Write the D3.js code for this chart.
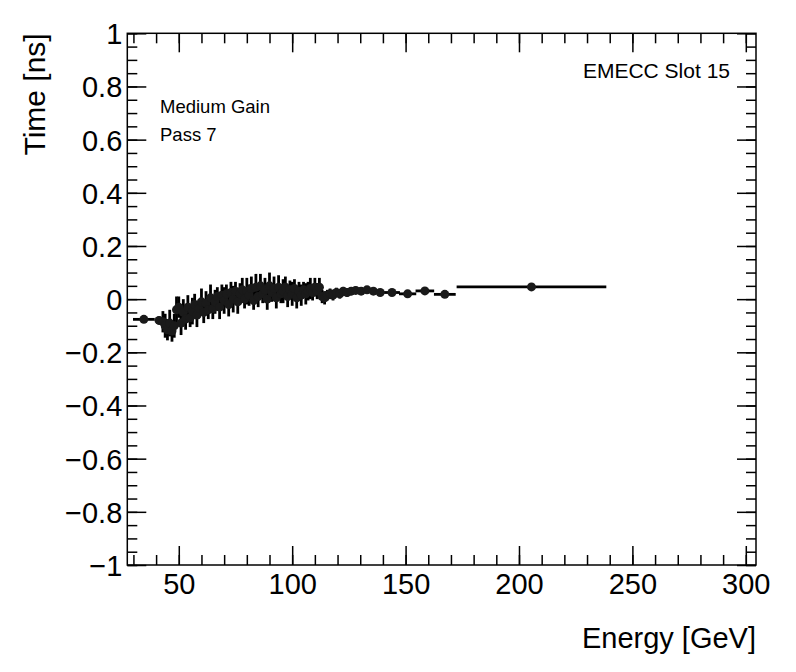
<!DOCTYPE html>
<html>
<head>
<meta charset="utf-8">
<script src="https://cdn.jsdelivr.net/npm/d3@7"></script>
<style>
  body { margin: 0; background: #fff; }
  text { font-family: "Liberation Sans", Arial, sans-serif; fill: #000; }
</style>
</head>
<body>
<script>
// energy bin centres [GeV], half widths, mean time [ns] and its error
const energy = [
  34.6, 41.3,
  43, 44, 45, 46, 47, 48, 49, 50, 51, 52, 53, 54, 55, 56, 57, 58, 59, 60,
  61, 62, 63, 64, 65, 66, 67, 68, 69, 70, 71, 72, 73, 74, 75, 76, 77, 78, 79, 80,
  81, 82, 83, 84, 85, 86, 87, 88, 89, 90, 91, 92, 93, 94, 95, 96, 97, 98, 99, 100,
  101, 102, 103, 104, 105, 106, 107, 108, 109, 110, 111, 112,
  113.2, 114.3, 115.5, 116.7, 118, 119.5, 121, 122.5, 124.2, 126, 128, 130.4,
  133, 135.8, 138.8, 144, 150.9, 158.5, 167.3, 205.5
];
const energyErr = [
  4.8, 1.7,
  0.5, 0.5, 0.5, 0.5, 0.5, 0.5, 0.5, 0.5, 0.5, 0.5, 0.5, 0.5, 0.5, 0.5, 0.5, 0.5, 0.5, 0.5,
  0.5, 0.5, 0.5, 0.5, 0.5, 0.5, 0.5, 0.5, 0.5, 0.5, 0.5, 0.5, 0.5, 0.5, 0.5, 0.5, 0.5, 0.5, 0.5, 0.5,
  0.5, 0.5, 0.5, 0.5, 0.5, 0.5, 0.5, 0.5, 0.5, 0.5, 0.5, 0.5, 0.5, 0.5, 0.5, 0.5, 0.5, 0.5, 0.5, 0.5,
  0.5, 0.5, 0.5, 0.5, 0.5, 0.5, 0.5, 0.5, 0.5, 0.5, 0.5, 0.5,
  0.6, 0.6, 0.6, 0.6, 0.7, 0.75, 0.75, 0.8, 0.85, 0.9, 1.1, 1.3,
  1.3, 1.5, 1.6, 3.5, 3.8, 4.1, 4.8, 33
];
const time = [
  -0.076, -0.08,
  -0.085, -0.1, -0.115, -0.09, -0.12, -0.1, -0.04, -0.03, -0.09, -0.05, -0.075, -0.03, -0.07, -0.045, -0.02, -0.06, -0.035, -0.01,
  -0.05, -0.015, -0.04, 0.005, -0.035, -0.01, 0.01, -0.03, 0.015, -0.005, 0.02, -0.02, 0.025, 0.0, 0.03, -0.01, 0.02, 0.035, 0.0, 0.03,
  0.015, 0.04, -0.005, 0.045, 0.01, 0.05, 0.02, 0.035, 0.0, 0.05, 0.025, 0.04, 0.005, 0.045, 0.02, 0.03, 0.045, 0.01, 0.035, 0.02,
  0.04, 0.005, 0.03, 0.015, 0.035, 0.02, 0.03, 0.04, 0.025, 0.045, 0.03, 0.045,
  0.01, 0.005, 0.015, 0.02, 0.015, 0.025, 0.02, 0.03, 0.025, 0.03, 0.033, 0.03,
  0.035, 0.03, 0.025, 0.025, 0.02, 0.031, 0.018, 0.046
];
const timeErr = [
  0.012, 0.015,
  0.04, 0.045, 0.04, 0.05, 0.04, 0.045, 0.05, 0.04, 0.045, 0.05, 0.04, 0.045, 0.035, 0.05, 0.04, 0.045, 0.035, 0.05,
  0.04, 0.045, 0.035, 0.05, 0.04, 0.045, 0.035, 0.045, 0.04, 0.05, 0.035, 0.045, 0.04, 0.05, 0.035, 0.045, 0.04, 0.045, 0.035, 0.05,
  0.04, 0.045, 0.035, 0.05, 0.04, 0.045, 0.035, 0.045, 0.04, 0.05, 0.035, 0.045, 0.04, 0.045, 0.035, 0.045, 0.04, 0.04, 0.035, 0.045,
  0.035, 0.04, 0.035, 0.04, 0.03, 0.04, 0.035, 0.04, 0.03, 0.035, 0.03, 0.035,
  0.025, 0.025, 0.02, 0.02, 0.02, 0.018, 0.018, 0.016, 0.016, 0.015, 0.014, 0.013,
  0.012, 0.012, 0.01, 0.009, 0.008, 0.009, 0.008, 0.004
];
const xTitle = "Energy [GeV]";
const yTitle = "Time [ns]";
const labels = ["Medium Gain", "Pass 7"];
const slotLabel = "EMECC Slot 15";

const W = 796, H = 672;
const frame = {left: 127.3, right: 756, top: 33.3, bottom: 565};

const svg = d3.select("body").append("svg")
    .attr("width", W)
    .attr("height", H);

svg.append("rect").attr("width", W).attr("height", H).attr("fill", "#fff");

const x = d3.scaleLinear().domain([27.3, 304.5]).range([frame.left, frame.right]);
const y = d3.scaleLinear().domain([-1, 1]).range([frame.bottom, frame.top]);

const fmt = d3.format("~g");

// axes: major ticks with labels, minor ticks without, mirrored on top/right
function drawAxis(axisFn, scale, pos, majorN, minorN, withLabels) {
    const g = svg.append("g").attr("transform", pos);
    g.append("g").call(axisFn(scale).tickValues(scale.ticks(minorN)).tickSize(-10).tickFormat(""));
    const major = g.append("g").call(axisFn(scale).tickValues(scale.ticks(majorN)).tickSize(-19)
        .tickPadding(withLabels ? 8 : 0).tickFormat(withLabels ? fmt : ""));
    g.selectAll(".domain").remove();
    g.selectAll("line").attr("stroke", "#000").attr("stroke-width", 1.5);
    return major;
}

const xAx = drawAxis(d3.axisBottom, x, `translate(0,${frame.bottom})`, 6, 30, true);
xAx.selectAll("text").attr("font-size", 29).attr("font-family", "Liberation Sans").attr("dy", "0.74em");
drawAxis(d3.axisTop, x, `translate(0,${frame.top})`, 6, 30, false);

const yAx = drawAxis(d3.axisLeft, y, `translate(${frame.left},0)`, 10, 40, true);
yAx.selectAll("text").attr("font-size", 29).attr("font-family", "Liberation Sans").attr("x", -5).attr("dy", "0.36em");
drawAxis(d3.axisRight, y, `translate(${frame.right},0)`, 10, 40, false);

svg.append("rect")
    .attr("x", frame.left).attr("y", frame.top)
    .attr("width", frame.right - frame.left).attr("height", frame.bottom - frame.top)
    .attr("fill", "none").attr("stroke", "#000").attr("stroke-width", 1.5);

// data
const pts = energy.map((e, i) => ({e, ex: energyErr[i], t: time[i], et: timeErr[i]}));
const gData = svg.append("g");

gData.selectAll(".xerr").data(pts).join("line")
    .attr("x1", d => x(d.e - d.ex)).attr("x2", d => x(d.e + d.ex))
    .attr("y1", d => y(d.t)).attr("y2", d => y(d.t))
    .attr("stroke", "#000").attr("stroke-width", 2.8);

gData.selectAll(".yerr").data(pts).join("line")
    .attr("x1", d => x(d.e)).attr("x2", d => x(d.e))
    .attr("y1", d => y(d.t - d.et)).attr("y2", d => y(d.t + d.et))
    .attr("stroke", "#000").attr("stroke-width", 2.8);

gData.selectAll("circle").data(pts).join("circle")
    .attr("cx", d => x(d.e)).attr("cy", d => y(d.t))
    .attr("r", 4.5)
    .attr("fill", "#1a1a1a");

// titles
svg.append("text")
    .attr("x", frame.right).attr("y", 648)
    .attr("text-anchor", "end").attr("font-size", 29)
    .text(xTitle);

svg.append("text")
    .attr("transform", `translate(45,${frame.top}) rotate(-90)`)
    .attr("text-anchor", "end").attr("font-size", 30)
    .text(yTitle);

svg.selectAll(".lbl").data(labels).join("text")
    .attr("x", 160).attr("y", (d, i) => 113 + i * 28)
    .attr("font-size", 18.5)
    .text(d => d);

svg.append("text")
    .attr("x", 730).attr("y", 78)
    .attr("text-anchor", "end").attr("font-size", 21)
    .text(slotLabel);
</script>
</body>
</html>
